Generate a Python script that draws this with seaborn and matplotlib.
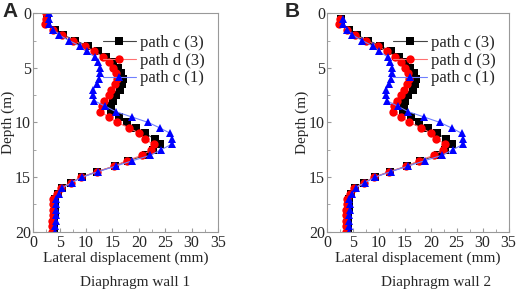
import numpy as np
import pandas as pd
import matplotlib
matplotlib.use('Agg')
import matplotlib.pyplot as plt
import seaborn as sns
from matplotlib.ticker import MultipleLocator

# depth of each monitoring point (m)
depth = [0, 0.5, 1, 1.5, 2, 2.5, 3, 3.5, 4, 4.5, 5, 5.5, 6, 6.5, 7, 7.5, 8, 8.5, 9, 9.5,
         10, 10.5, 11, 11.5, 12, 12.5, 13, 13.5, 14, 14.5, 15, 15.5, 16, 16.5, 17, 17.5,
         18, 18.5, 19, 19.5, 20]

# lateral displacement (mm)
path_c3 = [2.7, 2.7, 2.7, 4.2, 5.7, 8.0, 10.3, 12.3, 13.8, 15.1, 16.0, 16.7, 17.1, 16.9,
           16.5, 15.7, 15.1, 14.8, 14.7, 16.2, 17.7, 19.5, 21.2, 23.0, 24.1, 22.7, 21.4,
           17.9, 15.4, 12.1, 9.2, 7.2, 5.4, 4.7, 4.2, 4.2, 4.2, 4.1, 4.0, 4.0, 4.0]
path_d3 = [2.5, 2.5, 2.3, 3.8, 5.4, 7.6, 9.8, 11.5, 13.2, 14.3, 15.1, 15.7, 15.9, 15.5,
           14.8, 14.3, 13.4, 13.0, 12.7, 14.3, 15.9, 18.2, 20.1, 21.1, 22.8, 22.4, 20.6,
           17.7, 15.3, 12.0, 9.1, 7.1, 5.3, 4.5, 3.8, 3.8, 3.7, 3.7, 3.6, 3.6, 3.6]
path_c1 = [3.0, 3.0, 3.0, 3.8, 4.9, 6.8, 8.8, 10.1, 11.7, 12.2, 12.6, 12.6, 12.4, 12.0,
           11.4, 11.3, 11.5, 13.6, 15.6, 18.7, 21.8, 24.0, 26.0, 26.2, 26.2, 24.2, 22.2,
           18.8, 15.6, 12.3, 9.3, 7.3, 5.5, 4.9, 4.3, 4.4, 4.4, 4.3, 4.3, 4.2, 4.2]

labels = ['path c (3)', 'path d (3)', 'path c (1)']
panel_titles = ['Diaphragm wall 1', 'Diaphragm wall 2']

sns.set_style('ticks')
plt.rcParams['font.family'] = ['Liberation Serif', 'DejaVu Serif']


def draw_panel(ax, start):
    series = [path_c3, path_d3, path_c1]
    markers = ['s', 'o', '^']
    colors = ['black', 'red', 'blue']
    line_colors = ['#444444', '#ff7070', '#7080ff']
    for vals, lab, mk, c, lc in zip(series, labels, markers, colors, line_colors):
        df = pd.DataFrame({'disp': vals[start:], 'depth': depth[start:]})
        sns.lineplot(data=df, x='disp', y='depth', sort=False, estimator=None, ax=ax,
                     color=lc, lw=0.8, marker=mk, markersize=6, markerfacecolor=c,
                     markeredgecolor=c, markeredgewidth=0, label=lab)
    ax.set_xlim(0, 35)
    ax.set_ylim(20, 0)
    ax.xaxis.set_major_locator(MultipleLocator(5))
    ax.yaxis.set_major_locator(MultipleLocator(5))
    ax.xaxis.set_minor_locator(MultipleLocator(2.5))
    ax.yaxis.set_minor_locator(MultipleLocator(2.5))
    ax.tick_params(which='both', direction='in', labelsize=11.5, color='#999999', pad=1.5)
    ax.tick_params(axis='x', pad=2.5)
    ax.tick_params(which='major', length=3)
    ax.tick_params(which='minor', length=2)
    for s in ax.spines.values():
        s.set_color('#999999')
        s.set_linewidth(0.8)
    ax.set_xlabel('Lateral displacement (mm)', fontsize=11, labelpad=0)
    ax.set_ylabel('Depth (m)', fontsize=11, labelpad=0)
    ax.legend(loc='upper right', frameon=False, fontsize=12, handlelength=2.0,
              handletextpad=0.25, labelspacing=0.1, borderaxespad=0.0,
              bbox_to_anchor=(0.965, 0.93))


fig = plt.figure(figsize=(5.19, 2.93), dpi=100)
ax1 = fig.add_axes([0.064, 0.209, 0.356, 0.746])
ax2 = fig.add_axes([0.630, 0.209, 0.350, 0.746])

draw_panel(ax1, 0)
draw_panel(ax2, 1)

fig.text(0.26, 0.035, panel_titles[0], ha='center', va='center', fontsize=11)
fig.text(0.84, 0.035, panel_titles[1], ha='center', va='center', fontsize=11)
fig.text(0.004, 0.962, 'A', ha='left', va='center', fontsize=15, fontweight='bold',
         family=['Liberation Sans', 'DejaVu Sans'])
fig.text(0.548, 0.962, 'B', ha='left', va='center', fontsize=15, fontweight='bold',
         family=['Liberation Sans', 'DejaVu Sans'])

fig.savefig('out.png', dpi=100)
